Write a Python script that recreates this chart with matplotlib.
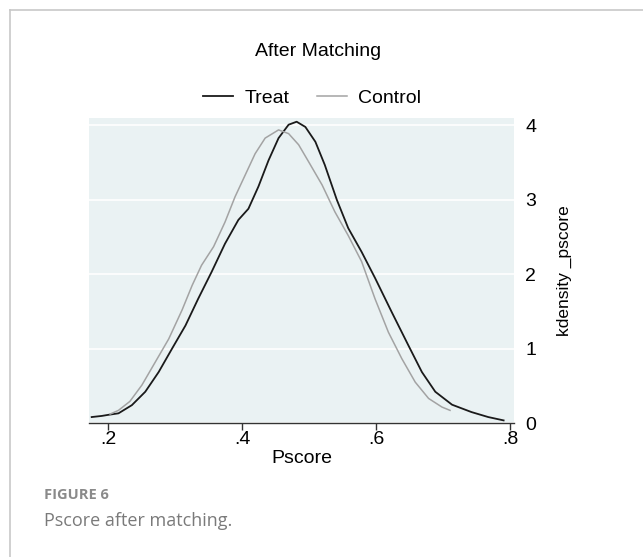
import matplotlib
matplotlib.use("Agg")
import matplotlib.pyplot as plt
from matplotlib.lines import Line2D

# kdensity of pscore after matching
treat_x = [0.175, 0.19, 0.2, 0.215, 0.235, 0.255, 0.275, 0.295, 0.315, 0.334,
           0.354, 0.374, 0.394, 0.409, 0.424, 0.439, 0.454, 0.469, 0.481, 0.494,
           0.509, 0.523, 0.541, 0.558, 0.578, 0.598, 0.623, 0.648, 0.668, 0.688,
           0.713, 0.742, 0.767, 0.790]
treat_y = [0.08, 0.095, 0.11, 0.13, 0.24, 0.42, 0.685, 1.0, 1.31, 1.67,
           2.03, 2.41, 2.73, 2.88, 3.18, 3.53, 3.83, 4.01, 4.05, 3.98,
           3.78, 3.47, 3.0, 2.62, 2.30, 1.95, 1.49, 1.04, 0.685, 0.42,
           0.246, 0.147, 0.08, 0.035]

control_x = [0.2025, 0.215, 0.232, 0.250, 0.270, 0.290, 0.310, 0.325, 0.339, 0.357,
             0.374, 0.389, 0.404, 0.419, 0.434, 0.454, 0.469, 0.484, 0.499, 0.519,
             0.538, 0.558, 0.578, 0.598, 0.618, 0.638, 0.658, 0.678, 0.698, 0.710]
control_y = [0.12, 0.17, 0.29, 0.51, 0.82, 1.13, 1.52, 1.85, 2.12, 2.37,
             2.70, 3.04, 3.33, 3.62, 3.83, 3.94, 3.89, 3.74, 3.51, 3.20,
             2.84, 2.52, 2.17, 1.67, 1.22, 0.865, 0.55, 0.33, 0.214, 0.17]

x_ticks = [0.2, 0.4, 0.6, 0.8]
x_labels = [".2", ".4", ".6", ".8"]
y_ticks = [0, 1, 2, 3, 4]

plt.rcParams['font.family'] = ['Liberation Sans', 'DejaVu Sans']

W, H = 643, 557
fig = plt.figure(figsize=(W / 100, H / 100), dpi=100)
fig.patch.set_facecolor('white')

# frame of the page around the figure
border = '#c8c8c8'
fig.add_artist(Line2D([10 / W, 10 / W], [0, 1 - 10 / H], color=border, lw=1.2))
fig.add_artist(Line2D([10 / W, 1], [1 - 10 / H, 1 - 10 / H], color=border, lw=1.2))

ax = fig.add_axes([89 / W, 1 - 423 / H, (514 - 89) / W, (423 - 118) / H])
ax.set_facecolor('#eaf2f3')

ax.plot(treat_x, treat_y, color='#1a1a1a', lw=1.3, label='Treat')
ax.plot(control_x, control_y, color='#a3a3a3', lw=1.1, label='Control')

ax.set_xlim(0.171, 0.8055)
ax.set_ylim(0, 4.1)
ax.set_xticks(x_ticks)
ax.set_xticklabels(x_labels)
ax.set_yticks(y_ticks)
ax.yaxis.tick_right()
ax.yaxis.set_label_position('right')
ax.grid(axis='y', color='white', lw=1.2)
ax.set_axisbelow(True)

for s in ['top', 'left', 'right']:
    ax.spines[s].set_visible(False)
ax.spines['bottom'].set_color('#333333')
ax.spines['bottom'].set_linewidth(1.0)

ax.tick_params(axis='x', length=5, width=1, color='#333333', labelsize=14, pad=1)
ax.tick_params(axis='y', length=5, width=1, color='white', labelsize=14, pad=3)

ax.set_xlabel('Pscore', fontsize=14, labelpad=1)
ax.set_ylabel('kdensity _pscore', fontsize=12.5, labelpad=15)

fig.text(318 / W, 1 - 52 / H, 'After Matching', ha='center', va='center', fontsize=14)
fig.legend(loc='center', bbox_to_anchor=(312 / W, 1 - 98 / H), ncol=2, frameon=False,
           fontsize=14, handlelength=1.55, handletextpad=0.6, columnspacing=1.4)

# caption
fig.text(44 / W, 1 - 495 / H, 'FIGURE 6', ha='left', va='center', fontsize=10.5,
         color='#8a8a8a', fontweight='bold', family=['Open Sans', 'DejaVu Sans'])
fig.text(44 / W, 1 - 521 / H, 'Pscore after matching.', ha='left', va='center', fontsize=13,
         color='#7a7a7a', family=['Open Sans', 'DejaVu Sans'])

fig.savefig('out.png', dpi=100)
